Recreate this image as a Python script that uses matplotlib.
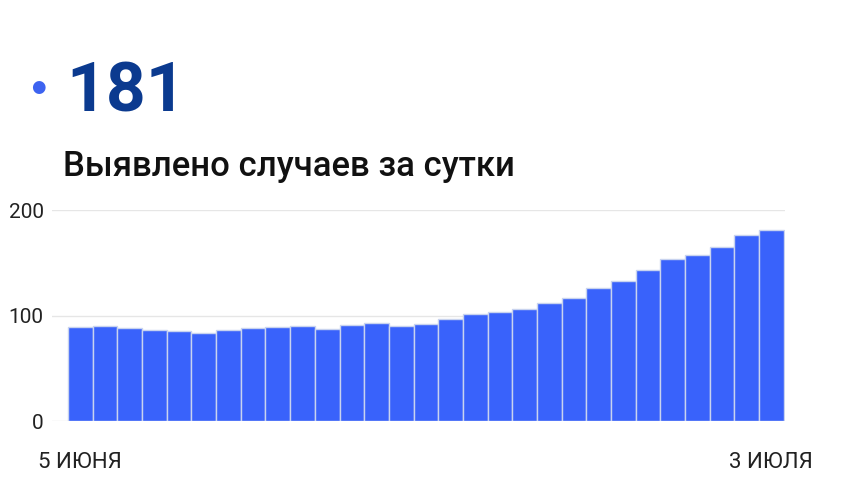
import numpy as np
import matplotlib
matplotlib.use("Agg")
from matplotlib import pyplot as plt

# daily new cases, 5 June .. 3 July
days = list(range(5, 31)) + [1, 2, 3]
cases = [89, 90, 88, 86, 85, 83, 86, 88, 89, 90, 87, 91, 93, 90, 92,
         97, 101, 103, 106, 112, 117, 126, 133, 143, 154, 157, 165, 176, 181]
tick_labels = ["5 ИЮНЯ", "3 ИЮЛЯ"]
headline = "181"
subtitle = "Выявлено случаев за сутки"

plt.rcParams['font.family'] = ['Roboto', 'DejaVu Sans']

fig = plt.figure(figsize=(8.5, 4.94), dpi=100)
fig.patch.set_facecolor('white')

# header
fig.text(38 / 850, 1 - 87 / 494, "\u25CF", color='#3d63f0', fontsize=12,
         ha='center', va='center', family=['DejaVu Sans'])
fig.text(66 / 850, 1 - 111 / 494, headline, color='#0b3a8f', fontsize=50,
         fontweight='bold', ha='left', va='baseline')
fig.text(63 / 850, 1 - 176 / 494, subtitle, color='#111111', fontsize=25,
         fontweight='medium', ha='left', va='baseline')

ax = fig.add_axes([52 / 850, 73 / 494, 733 / 850, 211 / 494])
x = np.arange(len(cases))
ax.bar(x, cases, width=1.0, color='#3962fb', edgecolor='#c8d3ef',
       linewidth=1.0, zorder=2)

ax.set_xlim(-1.15, len(cases) - 0.45)
ax.set_ylim(0, 200)
ax.set_yticks([0, 100, 200])
ax.yaxis.grid(True, color='#e6e6e6', linewidth=1, zorder=0)
ax.set_xticks([0, len(cases) - 1])
ax.set_xticklabels(tick_labels)

for s in ax.spines.values():
    s.set_visible(False)
ax.tick_params(axis='both', length=0, colors='#222222')
ax.tick_params(axis='y', pad=6, labelsize=15)
ax.tick_params(axis='x', pad=22, labelsize=16)

plt.savefig("out.png", dpi=100, facecolor='white')
